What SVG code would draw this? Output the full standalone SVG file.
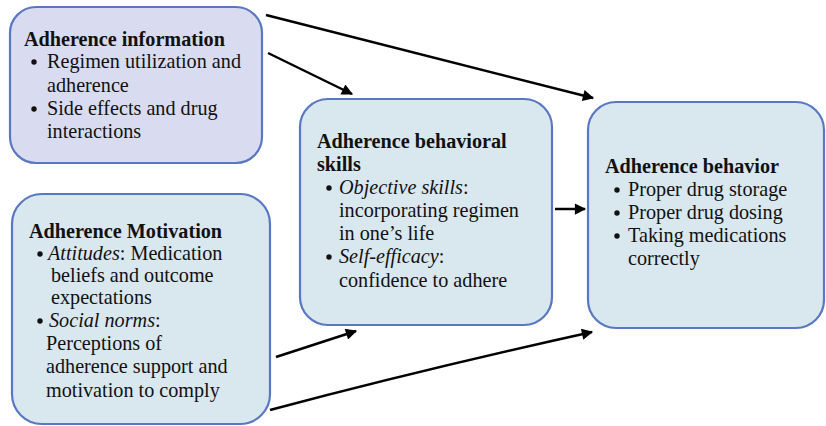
<svg xmlns="http://www.w3.org/2000/svg" width="826" height="426" viewBox="0 0 826 426">
<defs>
<marker id="ah" viewBox="0 0 10 10" refX="9" refY="5" markerWidth="5.5" markerHeight="4.5" markerUnits="strokeWidth" orient="auto">
<path d="M0,0 L10,5 L0,10 z" fill="#000"/>
</marker>
</defs>
<style>
.box{stroke:#5a78c2;stroke-width:2.2}
.lav{fill:#d9dcf0}
.blu{fill:#d9e7ef}
text{font-family:"Liberation Serif","Times New Roman",serif;font-size:20.2px;fill:#111}
.t{font-weight:bold}
.i{font-style:italic}
.b{fill:#111}
.c{fill:none;stroke:#000;stroke-width:2.5;marker-end:url(#ah)}
</style>
<rect width="826" height="426" fill="#fff"/>
<g id="info">
<rect class="box lav" x="10" y="7" width="252" height="156" rx="26"/>
<text class="t" x="24" y="46">Adherence information</text>
<circle class="b" cx="34" cy="62" r="2.7"/><text x="47" y="68">Regimen utilization and</text>
<text x="47" y="92">adherence</text>
<circle class="b" cx="34" cy="109" r="2.7"/><text x="47" y="115">Side effects and drug</text>
<text x="47" y="138">interactions</text>
</g>
<g id="motivation">
<rect class="box blu" x="12" y="194" width="258" height="230" rx="30"/>
<text class="t" x="29" y="238">Adherence Motivation</text>
<circle class="b" cx="40" cy="254" r="2.7"/><text x="48" y="260"><tspan class="i">Attitudes</tspan>: Medication</text>
<text x="51" y="282">beliefs and outcome</text>
<text x="51" y="304">expectations</text>
<circle class="b" cx="40" cy="321" r="2.7"/><text x="49" y="327"><tspan class="i">Social norms</tspan>:</text>
<text x="46" y="350">Perceptions of</text>
<text x="46" y="373">adherence support and</text>
<text x="46" y="397">motivation to comply</text>
</g>
<g id="skills">
<rect class="box blu" x="300" y="99" width="252" height="226" rx="28"/>
<text class="t" x="317" y="148">Adherence behavioral</text>
<text class="t" x="317" y="171">skills</text>
<circle class="b" cx="329" cy="188" r="2.7"/><text x="339" y="194"><tspan class="i">Objective skills</tspan>:</text>
<text x="339" y="217">incorporating regimen</text>
<text x="339" y="240">in one’s life</text>
<circle class="b" cx="329" cy="257" r="2.7"/><text x="339" y="263"><tspan class="i">Self-efficacy</tspan>:</text>
<text x="339" y="287">confidence to adhere</text>
</g>
<g id="behavior">
<rect class="box blu" x="588" y="102" width="236" height="226" rx="28"/>
<text class="t" x="605" y="173">Adherence behavior</text>
<circle class="b" cx="617" cy="190" r="2.7"/><text x="628" y="196">Proper drug storage</text>
<circle class="b" cx="617" cy="213" r="2.7"/><text x="628" y="219">Proper drug dosing</text>
<circle class="b" cx="617" cy="236" r="2.7"/><text x="628" y="242">Taking medications</text>
<text x="628" y="265">correctly</text>
</g>
<g id="connectors">
<line class="c" x1="266" y1="15" x2="593" y2="98"/>
<line class="c" x1="268" y1="53" x2="352" y2="94"/>
<line class="c" x1="555" y1="209" x2="585" y2="209"/>
<line class="c" x1="276" y1="357" x2="356" y2="331"/>
<path class="c" d="M270,410 Q420,370 592,332"/>
</g>
</svg>
